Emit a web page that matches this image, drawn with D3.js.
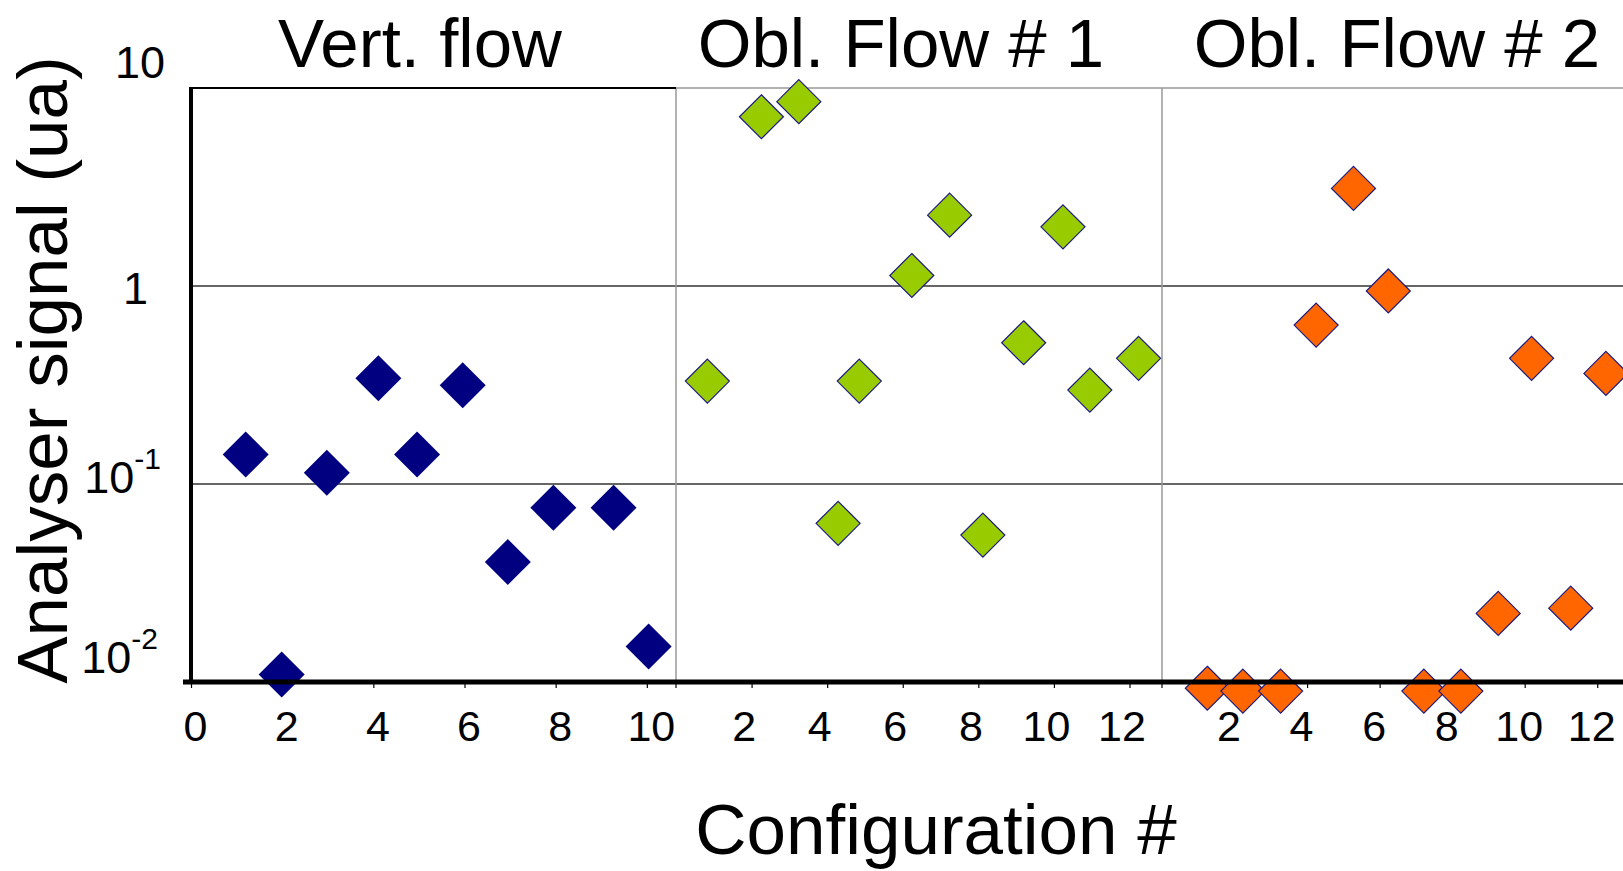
<!DOCTYPE html>
<html>
<head>
<meta charset="utf-8">
<script src="https://cdn.jsdelivr.net/npm/d3@7"></script>
<style>
  body { margin: 0; background: #fff; }
  text { font-family: "Liberation Sans", Arial, sans-serif; fill: #000; }
</style>
</head>
<body>
<script>
var width = 1623;
var height = 871;

// panel titles and x extents (configuration number)
var panelTitles = ["Vert. flow", "Obl. Flow # 1", "Obl. Flow # 2"];
var panelXMax = [10.64, 12.86, 13.4];
var panelColors = ["#000080", "#99cc00", "#ff6600"];

// vertical flow
var vertX = [1.2, 1.99, 2.98, 4.11, 4.96, 5.96, 6.95, 7.95, 9.27, 10.04];
var vertY = [0.141, 0.0109, 0.114, 0.342, 0.141, 0.315, 0.0404, 0.0759, 0.0759, 0.0151];

// oblique flow 1
var obl1X = [0.83, 2.26, 3.25, 4.29, 4.85, 6.24, 7.24, 8.12, 9.2, 10.24, 10.95, 12.24];
var obl1Y = [0.331, 7.16, 8.53, 0.0633, 0.331, 1.13, 2.28, 0.0552, 0.517, 1.99, 0.298, 0.431];

// oblique flow 2
var obl2X = [1.25, 2.23, 3.27, 4.25, 5.28, 6.24, 7.22, 8.24, 9.27, 10.19, 11.27, 12.24];
var obl2Y = [0.0093, 0.009, 0.009, 0.635, 3.11, 0.944, 0.009, 0.009, 0.0222, 0.431, 0.0236, 0.362];

var xTicksFirst = [0, 2, 4, 6, 8, 10];
var xTicksOther = [2, 4, 6, 8, 10, 12];
var yTicks = [10, 1, 0.1, 0.01];
var yTickBase = ["10", "1", "10", "10"];
var yTickExp = ["", "", "-1", "-2"];

var series = [
  {x: vertX, y: vertY},
  {x: obl1X, y: obl1Y},
  {x: obl2X, y: obl2Y}
];

var plotTop = 88, plotBottom = 682;
var panelEdges = [191, 676, 1162, 1648];
var labelNudge = [4, -8, -6];

var y = d3.scaleLog().domain([0.01, 10]).range([plotBottom, plotTop]);

var svg = d3.select("body").append("svg")
  .attr("width", width)
  .attr("height", height);

// horizontal grid lines
svg.selectAll(".grid")
  .data([1, 0.1])
  .enter()
  .append("line")
  .attr("x1", panelEdges[0])
  .attr("x2", width)
  .attr("y1", function(d) { return y(d); })
  .attr("y2", function(d) { return y(d); })
  .attr("stroke", "#333")
  .attr("stroke-width", 1.6);

// frames for the oblique panels
svg.append("line")
  .attr("x1", panelEdges[1]).attr("x2", width)
  .attr("y1", plotTop).attr("y2", plotTop)
  .attr("stroke", "#999").attr("stroke-width", 1.5);
[panelEdges[1], panelEdges[2]].forEach(function(px) {
  svg.append("line")
    .attr("x1", px).attr("x2", px)
    .attr("y1", plotTop).attr("y2", plotBottom)
    .attr("stroke", "#999").attr("stroke-width", 1.5);
});

// first panel top border
svg.append("line")
  .attr("x1", panelEdges[0]).attr("x2", panelEdges[1])
  .attr("y1", plotTop).attr("y2", plotTop)
  .attr("stroke", "#000").attr("stroke-width", 2);

panelTitles.forEach(function(title, i) {
  var x = d3.scaleLinear()
    .domain([0, panelXMax[i]])
    .range([panelEdges[i], panelEdges[i + 1]]);

  var axis = d3.axisBottom(x)
    .tickValues(i == 0 ? xTicksFirst : xTicksOther)
    .tickSize(6)
    .tickPadding(22)
    .tickFormat(d3.format("d"));

  var g = svg.append("g")
    .attr("transform", "translate(0," + plotBottom + ")")
    .call(axis);
  g.select(".domain").remove();
  g.selectAll(".tick line").attr("stroke", "#000").attr("stroke-width", 1.2);
  g.selectAll(".tick text")
    .attr("font-size", 43)
    .attr("dx", labelNudge[i]);

  // ticks at the panel start for oblique panels
  if (i > 0) {
    svg.append("line")
      .attr("x1", x(0)).attr("x2", x(0))
      .attr("y1", plotBottom).attr("y2", plotBottom + 6)
      .attr("stroke", "#000").attr("stroke-width", 1.2);
  }

  svg.append("text")
    .attr("x", [420, 901, 1397][i])
    .attr("y", 67)
    .attr("text-anchor", "middle")
    .attr("font-size", 69)
    .text(title);

  var pts = series[i].x.map(function(v, k) { return {x: v, y: series[i].y[k]}; });
  var r = i == 0 ? 23 : 22;
  var sym = d3.symbol().type(d3.symbolDiamond2).size(Math.pow(r / 0.62625, 2));

  svg.selectAll(".pt" + i)
    .data(pts)
    .enter()
    .append("path")
    .attr("d", sym)
    .attr("transform", function(d) { return "translate(" + x(d.x) + "," + y(d.y) + ")"; })
    .attr("fill", panelColors[i])
    .attr("stroke", "#1a1a80")
    .attr("stroke-width", i == 0 ? 0 : 1.2);
});

// thick axes
svg.append("line")
  .attr("x1", panelEdges[0]).attr("x2", panelEdges[0])
  .attr("y1", plotTop - 1).attr("y2", plotBottom + 2)
  .attr("stroke", "#000").attr("stroke-width", 4);
svg.append("line")
  .attr("x1", 183).attr("x2", width)
  .attr("y1", plotBottom).attr("y2", plotBottom)
  .attr("stroke", "#000").attr("stroke-width", 5);

// y tick labels
var labelShift = {10: -10, 1: 18, 0.1: 9, 0.01: -9};
var labelRight = {10: 165, 1: 148, 0.1: 161, 0.01: 158};
yTicks.forEach(function(v, i) {
  var t = svg.append("text")
    .attr("x", labelRight[v])
    .attr("y", y(v) + labelShift[v])
    .attr("text-anchor", "end")
    .attr("font-size", 45);
  t.append("tspan").text(yTickBase[i]);
  if (yTickExp[i]) {
    t.append("tspan")
      .attr("font-size", 30)
      .attr("dy", -24)
      .text(yTickExp[i]);
  }
});

// axis titles
svg.append("text")
  .attr("transform", "translate(67,370) rotate(-90)")
  .attr("text-anchor", "middle")
  .attr("font-size", 71)
  .text("Analyser signal (ua)");

svg.append("text")
  .attr("x", 936)
  .attr("y", 854)
  .attr("text-anchor", "middle")
  .attr("font-size", 71)
  .text("Configuration #");
</script>
</body>
</html>
